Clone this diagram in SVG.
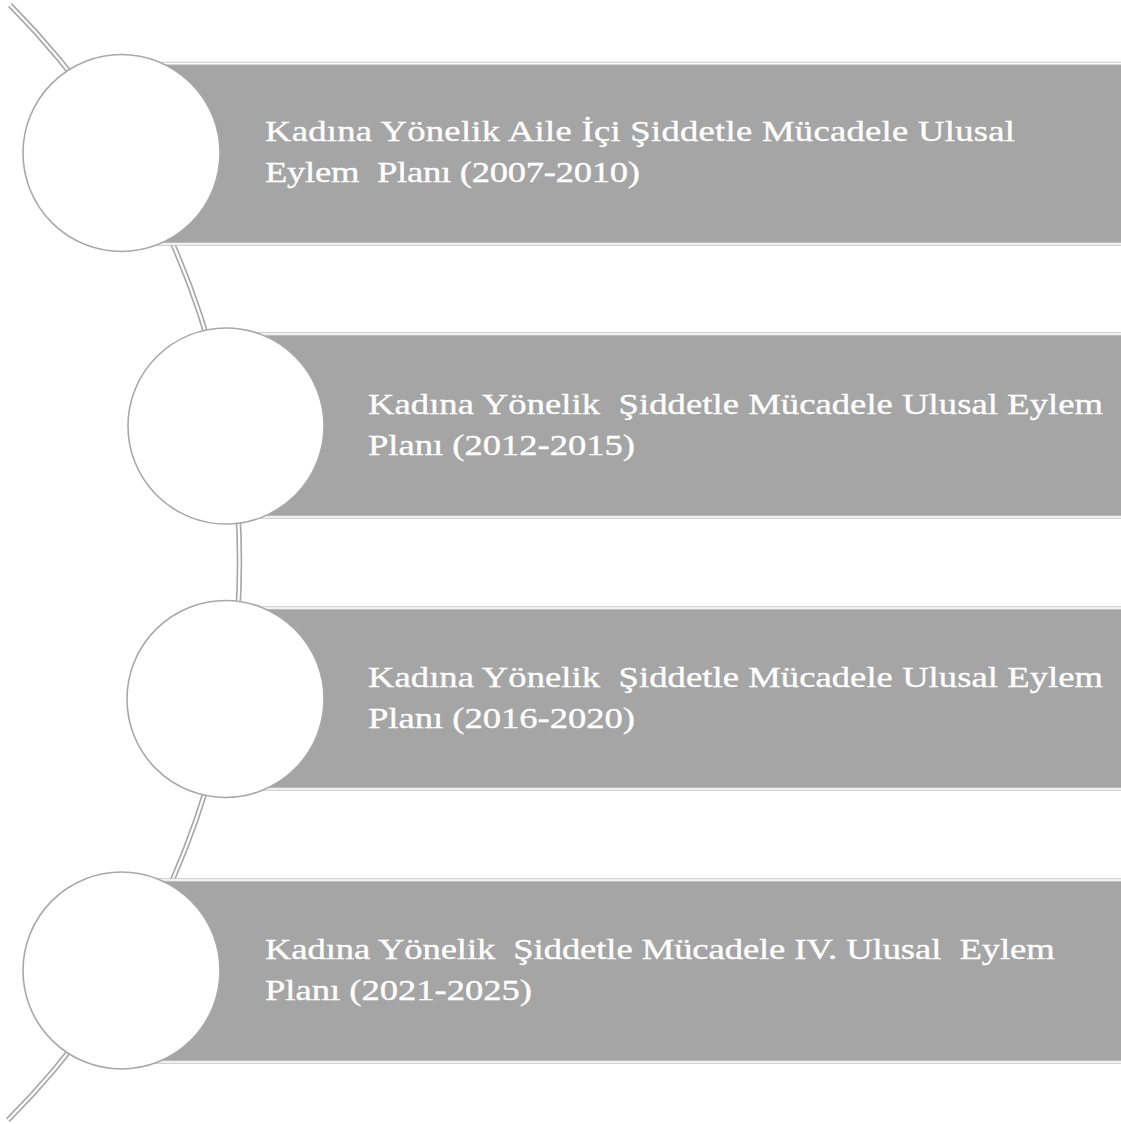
<svg xmlns="http://www.w3.org/2000/svg" width="1121" height="1124" viewBox="0 0 1121 1124">
<style>
.arcO{fill:none;stroke:#a8a8a8;stroke-width:5.5}
.arcI{fill:none;stroke:#ffffff;stroke-width:2.2}
.bar{fill:#a5a5a5;stroke:#c4c4c4;stroke-width:3.5}
.barIn{fill:none;stroke:#ffffff;stroke-width:1.5}
.dot{fill:#ffffff;stroke:#a8a8a8;stroke-width:1.6}
.lbl{font-family:"Liberation Serif","Times New Roman",serif;font-size:30.5px;fill:#ffffff;stroke:#ffffff;stroke-width:0.35;white-space:pre}
</style>
<rect width="1121" height="1124" fill="#ffffff"/>
<g id="connectors">
<path class="arcO" d="M 10 5 A 789.5 789.5 0 0 1 8 1120"/>
<path class="arcI" d="M 10 5 A 789.5 789.5 0 0 1 8 1120"/>
</g>
<g id="node1">
<rect class="bar" x="121" y="63.5" width="1010" height="180.5"/>
<rect class="barIn" x="121" y="63.5" width="1010" height="180.5"/>
<circle class="dot" cx="121.5" cy="153" r="98.5"/>
<text class="lbl" transform="translate(265,141) scale(1.2,1)" textLength="625" lengthAdjust="spacing" xml:space="preserve">Kadına Yönelik Aile İçi Şiddetle Mücadele Ulusal</text>
<text class="lbl" transform="translate(265,182) scale(1.2,1)" textLength="312.5" lengthAdjust="spacing" xml:space="preserve">Eylem  Planı (2007-2010)</text>
</g>
<g id="node2">
<rect class="bar" x="226" y="334" width="905" height="183"/>
<rect class="barIn" x="226" y="334" width="905" height="183"/>
<circle class="dot" cx="226" cy="426" r="98"/>
<text class="lbl" transform="translate(368,414) scale(1.2,1)" textLength="612.5" lengthAdjust="spacing" xml:space="preserve">Kadına Yönelik  Şiddetle Mücadele Ulusal Eylem</text>
<text class="lbl" transform="translate(368,455) scale(1.2,1)" textLength="222.5" lengthAdjust="spacing" xml:space="preserve">Planı (2012-2015)</text>
</g>
<g id="node3">
<rect class="bar" x="226" y="608" width="905" height="181"/>
<rect class="barIn" x="226" y="608" width="905" height="181"/>
<circle class="dot" cx="225.5" cy="699" r="98.5"/>
<text class="lbl" transform="translate(368,687) scale(1.2,1)" textLength="612.5" lengthAdjust="spacing" xml:space="preserve">Kadına Yönelik  Şiddetle Mücadele Ulusal Eylem</text>
<text class="lbl" transform="translate(368,728) scale(1.2,1)" textLength="222.5" lengthAdjust="spacing" xml:space="preserve">Planı (2016-2020)</text>
</g>
<g id="node4">
<rect class="bar" x="121" y="880" width="1010" height="182"/>
<rect class="barIn" x="121" y="880" width="1010" height="182"/>
<circle class="dot" cx="121.5" cy="970.5" r="98.5"/>
<text class="lbl" transform="translate(265,959) scale(1.2,1)" textLength="658" lengthAdjust="spacing" xml:space="preserve">Kadına Yönelik  Şiddetle Mücadele IV. Ulusal  Eylem</text>
<text class="lbl" transform="translate(265,1000) scale(1.2,1)" textLength="222.5" lengthAdjust="spacing" xml:space="preserve">Planı (2021-2025)</text>
</g>
</svg>
